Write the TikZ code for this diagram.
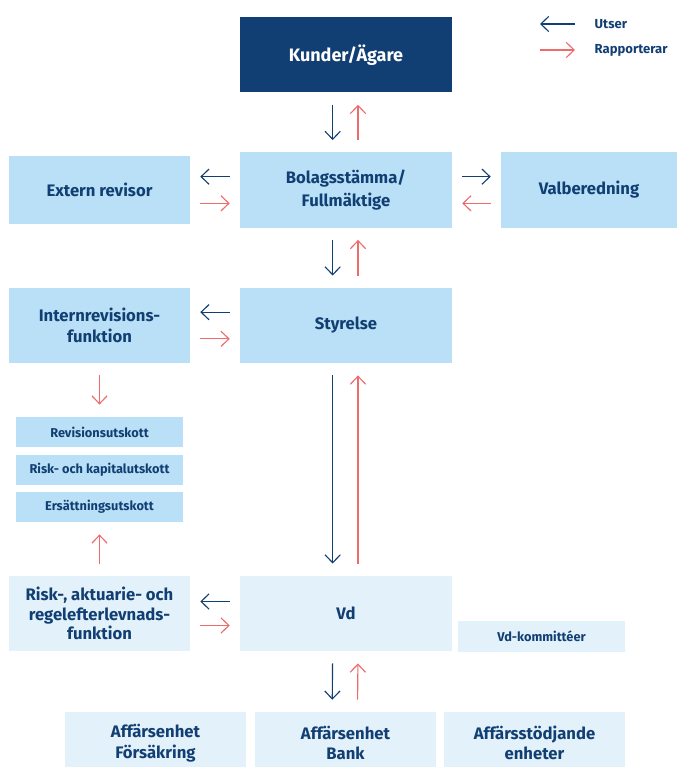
\documentclass[tikz,border=0pt]{standalone}
\usepackage{fontspec}
\setmainfont{Fira Sans}
\usepackage{xcolor}
\usetikzlibrary{positioning,arrows.meta}
\definecolor{navy}{HTML}{123F73}
\definecolor{ljusbla}{HTML}{B9E0F6}
\definecolor{blek}{HTML}{E2F1FA}
\definecolor{rod}{HTML}{EF6A6A}
\tikzset{
  box/.style={fill=ljusbla,inner sep=0pt,text=navy,font=\bfseries\fontsize{12.5}{15.5}\selectfont,align=center},
  palebox/.style={box,fill=blek},
  smallbox/.style={box,font=\bfseries\fontsize{9.6}{11}\selectfont},
  topbox/.style={box,fill=navy,text=white,font=\bfseries\fontsize{13.5}{16}\selectfont},
  stor/.style={minimum width=159pt,minimum height=56.5pt},
  mellan/.style={minimum width=135.75pt,minimum height=56.25pt},
  liten/.style={minimum width=125.25pt,minimum height=22.75pt},
  lag/.style={minimum width=135.75pt,minimum height=46.5pt},
  legendtext/.style={text=navy,font=\bfseries\fontsize{9.8}{11}\selectfont,anchor=west},
  utser/.style={navy,line width=0.85pt,-{Straight Barb[length=6pt,width=11.5pt]}},
  rapport/.style={rod,line width=0.85pt,-{Straight Barb[length=6pt,width=11.5pt]}},
  kort/.style={shorten <=9pt,shorten >=9pt},
  kortx/.style={shorten <=7.5pt,shorten >=7.5pt}
}
\begin{document}
\begin{tikzpicture}[x=0.75pt,y=-0.75pt]
  \useasboundingbox (0,0) rectangle (678,767);
  % boxes
  \node(kund)[topbox,stor,yshift=-1pt] at (346,53.5) {Kunder/Ägare};
  \node(bolag)[box,stor,font=\bfseries\fontsize{12.5}{17}\selectfont] at (346,190) {Bolagsstämma/\\Fullmäktige};
  \node(extern)[box,mellan,minimum height=51pt] at (99.5,190) {Extern revisor};
  \node(valb)[box,stor,minimum width=132pt] at (589,190) {Valberedning};
  \node(internrev)[box,mellan] at (99.5,325.5) {Internrevisions-\\funktion};
  \node(styr)[box,stor] at (346,325.5) {Styrelse};
  \node(revutsk)[smallbox,liten] at (99.5,432) {Revisionsutskott};
  \node(riskutsk)[smallbox,liten] at (99.5,470) {Risk- och kapitalutskott};
  \node(ersutsk)[smallbox,liten] at (99.5,507) {Ersättningsutskott};
  \node(riskfkn)[palebox,mellan,font=\bfseries\fontsize{12.5}{14.6}\selectfont] at (99.5,613.5) {Risk-, aktuarie- och\\regelefterlevnads-\\funktion};
  \node(vd)[palebox,stor] at (346,613.5) {Vd};
  \node(vdkom)[smallbox,fill=blek,liten] at (541.5,636.5) {Vd-kommittéer};
  \node(forsakr)[palebox,lag] at (155.5,743) {Affärsenhet\\Försäkring};
  \node(bank)[palebox,lag] at (345.5,743) {Affärsenhet\\Bank};
  \node(stod)[palebox,lag] at (534.5,743) {Affärsstödjande\\enheter};
  % legend
  \coordinate(u1) at (575,24);
  \coordinate(u2) at (540,24);
  \coordinate(r1) at (540,50);
  \coordinate(r2) at (575,50);
  \draw[utser] (u1) -- (u2);
  \draw[rapport] (r1) -- (r2);
  \node(utsertxt)[legendtext] at (590,24) {Utser};
  \node(rapptxt)[legendtext] at (590,50) {Rapporterar};
  % vertical
  \draw[utser,kort] ([xshift=-10pt]kund.south) -- ([xshift=-10pt]bolag.north);
  \draw[rapport,kort] ([xshift=9pt]bolag.north) -- ([xshift=9pt]kund.south);
  \draw[utser,kort] ([xshift=-10pt]bolag.south) -- ([xshift=-10pt]styr.north);
  \draw[rapport,kort] ([xshift=9pt]styr.north) -- ([xshift=9pt]bolag.south);
  \draw[utser,kort] ([xshift=-10pt]styr.south) -- ([xshift=-10pt]vd.north);
  \draw[rapport,kort] ([xshift=9pt]vd.north) -- ([xshift=9pt]styr.south);
  \draw[utser,kort] ([xshift=-10pt]vd.south) -- ([xshift=-10pt]bank.north);
  \draw[rapport,kort] ([xshift=9pt]bank.north) -- ([xshift=9pt]vd.south);
  \draw[rapport,kort] (internrev.south) -- (revutsk.north);
  \draw[rapport,kort] (riskfkn.north) -- (ersutsk.south);
  % horizontal
  \draw[utser,kortx] ([yshift=10pt]bolag.west) -- ([yshift=10pt]extern.east);
  \draw[rapport,kortx] ([yshift=-10pt]extern.east) -- ([yshift=-10pt]bolag.west);
  \draw[utser,kortx] ([yshift=10pt]bolag.east) -- ([yshift=10pt]valb.west);
  \draw[rapport,kortx] ([yshift=-10pt]valb.west) -- ([yshift=-10pt]bolag.east);
  \draw[utser,kortx] ([yshift=10pt]styr.west) -- ([yshift=10pt]internrev.east);
  \draw[rapport,kortx] ([yshift=-10pt]internrev.east) -- ([yshift=-10pt]styr.west);
  \draw[utser,kortx] ([yshift=9pt]vd.west) -- ([yshift=9pt]riskfkn.east);
  \draw[rapport,kortx] ([yshift=-9pt]riskfkn.east) -- ([yshift=-9pt]vd.west);
\end{tikzpicture}
\end{document}
